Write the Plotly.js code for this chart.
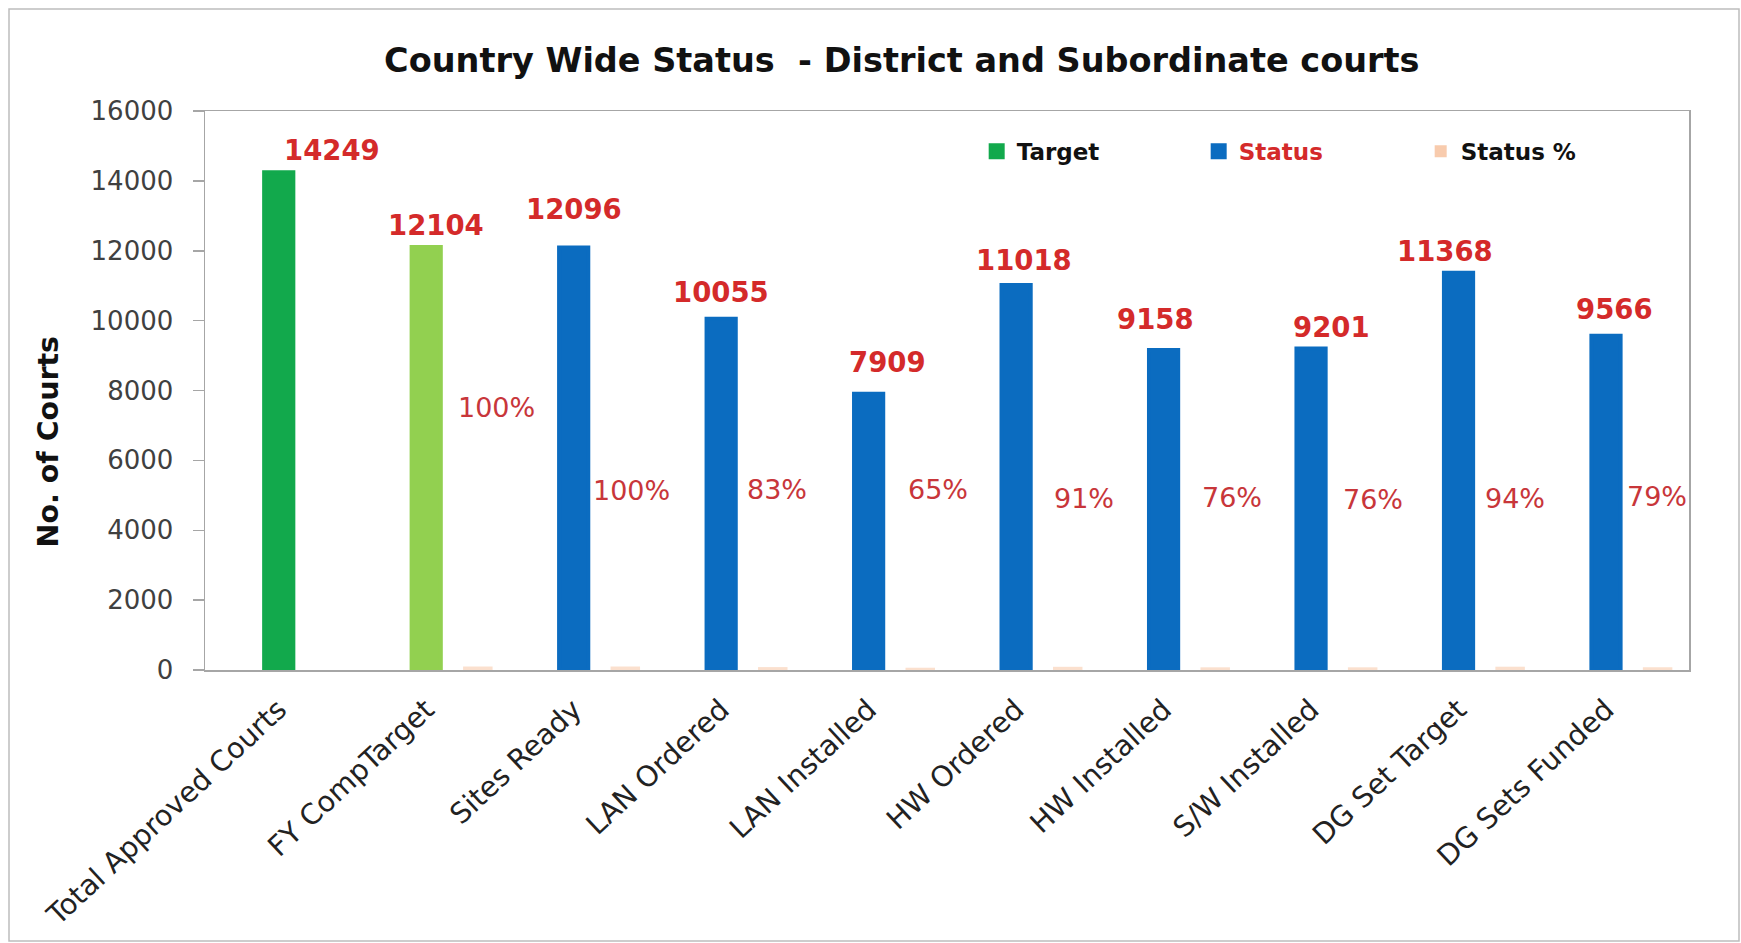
<!DOCTYPE html>
<html>
<head>
<meta charset="utf-8">
<script src="https://cdn.plot.ly/plotly-3.0.1.min.js"></script>
<style>
  html, body { margin: 0; padding: 0; background: #ffffff; }
  #chart { width: 1741px; height: 943px; }
</style>
</head>
<body>
<div id="chart"></div>
<script>
// ---- data ----
const categories = ["Total Approved Courts", "FY CompTarget", "Sites Ready", "LAN Ordered", "LAN Installed",
                    "HW Ordered", "HW Installed", "S/W Installed", "DG Set Target", "DG Sets Funded"];
const targetValues = [14249, 12104, null, null, null, null, null, null, null, null];
const statusValues = [null, null, 12096, 10055, 7909, 11018, 9158, 9201, 11368, 9566];
const statusPctValues = [null, 100, 100, 83, 65, 91, 76, 76, 94, 79];
const yTicks = [0, 2000, 4000, 6000, 8000, 10000, 12000, 14000, 16000];

// ---- label placement (style only) ----
const valueLabelXShift = [53, 10, 0, 0, 19, 8, -8, 20, -14, 8];
const valueLabelYShift = [22, 22, 38, 27, 32, 25, 31, 22, 22, 27];
const pctLabelXShift   = [0, 70, 58, 56, 69, 68, 68, 62, 56, 51];
const pctLabelLevel    = [null, 7500, 5150, 5180, 5180, 4920, 4950, 4890, 4920, 4980];

const GREEN = '#12a94c', LIGHTGREEN = '#92d050', BLUE = '#0b6cc0', PEACH = '#f8cbad';
const RED = '#d42a2a', PCTRED = '#c8363a';
const targetColors = [GREEN, LIGHTGREEN, GREEN, GREEN, GREEN, GREEN, GREEN, GREEN, GREEN, GREEN];

const traces = [
  {
    type: 'bar', name: 'Target', x: categories, y: targetValues,
    marker: { color: targetColors, line: { color: targetColors, width: 4 } },
    offset: -0.099, width: 0.198, hoverinfo: 'x+y'
  },
  {
    type: 'bar', name: '<span style="color:#d42a2a">Status</span>', x: categories, y: statusValues,
    marker: { color: BLUE, line: { color: BLUE, width: 4 } },
    offset: -0.099, width: 0.198, hoverinfo: 'x+y'
  },
  {
    type: 'bar', name: 'Status %', x: categories, y: statusPctValues,
    marker: { color: PEACH, opacity: 0.6 },
    offset: 0.25, width: 0.2, hoverinfo: 'x+y'
  }
];

const annotations = [];
categories.forEach((c, i) => {
  const v = targetValues[i] != null ? targetValues[i] : statusValues[i];
  if (v != null) {
    annotations.push({
      x: c, y: v, xref: 'x', yref: 'y', text: String(v), showarrow: false,
      xanchor: 'center', yanchor: 'middle', xshift: valueLabelXShift[i], yshift: valueLabelYShift[i],
      font: { family: 'DejaVu Sans', size: 27.5, color: RED, weight: 'bold' }
    });
  }
  if (statusPctValues[i] != null) {
    annotations.push({
      x: c, y: pctLabelLevel[i], xref: 'x', yref: 'y', text: statusPctValues[i] + '%', showarrow: false,
      xanchor: 'center', yanchor: 'middle', xshift: pctLabelXShift[i],
      font: { family: 'DejaVu Sans', size: 27, color: PCTRED }
    });
  }
});

// y-axis title (placed as paper annotation so it can sit where the original puts it)
annotations.push({
  xref: 'paper', yref: 'paper', x: (48.5 - 205) / 1484, y: 0.408, xanchor: 'center', yanchor: 'middle',
  text: 'No. of Courts', textangle: -90, showarrow: false,
  font: { family: 'DejaVu Sans', size: 28.5, color: '#111111', weight: 'bold' }
});

const layout = {
  width: 1741, height: 943,
  paper_bgcolor: '#ffffff', plot_bgcolor: '#ffffff',
  margin: { l: 205, r: 52, t: 111, b: 273, autoexpand: false },
  title: {
    text: 'Country Wide Status  - District and Subordinate courts',
    font: { family: 'DejaVu Sans', size: 33.5, color: '#111111', weight: 'bold' },
    xref: 'container', x: 0.518, xanchor: 'center', yref: 'container', y: 0.936, yanchor: 'middle'
  },
  barmode: 'overlay',
  showlegend: true,
  legend: {
    orientation: 'h', x: 0.52, xanchor: 'left', y: 0.928, yanchor: 'middle',
    entrywidth: 177, entrywidthmode: 'pixels',
    font: { family: 'DejaVu Sans', size: 23, color: '#111111', weight: 'bold' },
    bgcolor: 'rgba(0,0,0,0)', traceorder: 'normal'
  },
  xaxis: {
    type: 'category', categoryorder: 'array', categoryarray: categories,
    tickangle: -43, tickfont: { family: 'DejaVu Sans', size: 28.5, color: '#222222' },
    showline: true, linecolor: '#a6a6a6', linewidth: 1.5, mirror: true,
    ticks: '', showgrid: false, zeroline: false, automargin: false, ticklabelstandoff: 10
  },
  yaxis: {
    range: [0, 16000], tickmode: 'array', tickvals: yTicks, ticktext: yTicks.map(String),
    tickfont: { family: 'DejaVu Sans', size: 26, color: '#404040' },
    ticks: 'outside', ticklen: 11, tickcolor: '#a6a6a6', tickwidth: 1.5,
    showline: true, linecolor: '#a6a6a6', linewidth: 1.5, mirror: true,
    showgrid: false, zeroline: false, automargin: false, ticklabelstandoff: 14
  },
  annotations: annotations,
  shapes: [{
    type: 'rect', xref: 'paper', yref: 'paper', layer: 'below',
    x0: (9 - 205) / 1484, x1: (1739 - 205) / 1484, y0: (670 - 941) / 559, y1: (670 - 9) / 559,
    line: { color: '#bdbdbd', width: 1.5 }, fillcolor: 'rgba(0,0,0,0)'
  }]
};

Plotly.newPlot('chart', traces, layout, { displayModeBar: false, staticPlot: true });
</script>
</body>
</html>
